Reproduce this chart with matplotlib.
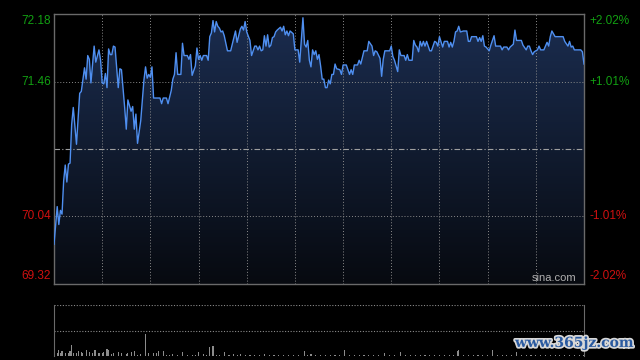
import numpy as np
import matplotlib.pyplot as plt
import matplotlib.patheffects as pe
from matplotlib.colors import LinearSegmentedColormap

# intraday minutes since open (330 trading minutes) and prices
minutes = [0, 2, 3, 4, 5, 6, 7, 8, 9, 10, 11, 12, 14, 16, 17, 19, 20, 21, 22, 23,
           25, 26, 28, 29, 30, 31, 32, 33, 34, 35, 36, 37, 38, 39, 40, 41, 42, 44, 45, 46,
           48, 49, 50, 51, 52, 54, 55, 56, 57, 58, 59, 60, 61, 62, 66, 67, 68, 70, 71, 73,
           74, 75, 76, 77, 79, 80, 81, 83, 84, 85, 86, 87, 88, 89, 90, 91, 92, 93, 95, 96,
           97, 98, 99, 100, 101, 102, 103, 104, 105, 106, 108, 110, 112, 113, 114, 116, 117, 118, 119, 120,
           122, 123, 125, 126, 127, 128, 129, 130, 131, 132, 133, 134, 135, 136, 137, 138, 139, 141, 142, 143,
           144, 145, 146, 147, 149, 150, 152, 153, 155, 156, 157, 158, 159, 160, 161, 162, 163, 164, 165, 166,
           167, 168, 169, 170, 171, 172, 173, 174, 175, 176, 178, 179, 180, 182, 183, 184, 185, 186, 187, 189,
           190, 191, 193, 195, 196, 198, 199, 200, 201, 203, 204, 205, 206, 209, 210, 211, 212, 214, 215, 216,
           218, 219, 220, 221, 223, 224, 225, 226, 227, 228, 229, 230, 231, 232, 234, 235, 237, 238, 239, 240,
           242, 243, 245, 246, 247, 248, 249, 250, 251, 252, 253, 255, 257, 258, 259, 260, 263, 264, 265, 266,
           267, 268, 269, 271, 272, 274, 275, 278, 279, 280, 282, 283, 284, 286, 287, 288, 291, 292, 294, 295,
           296, 297, 298, 299, 301, 302, 303, 305, 306, 307, 308, 309, 310, 312, 317, 318, 320, 321, 322, 323,
           324, 328, 329, 330]
prices = [69.74, 70.14, 69.95, 70.10, 70.06, 70.41, 70.58, 70.40, 70.59, 70.60, 71.01, 71.19, 70.80, 71.34, 71.36, 71.61, 71.49, 71.74, 71.70, 71.45,
          71.84, 71.67, 71.80, 71.69, 71.45, 71.44, 71.55, 71.40, 71.81, 71.75, 71.75, 71.84, 71.83, 71.62, 71.40, 71.60, 71.59, 71.19, 70.96, 71.27,
          71.15, 71.20, 70.96, 71.12, 70.81, 71.05, 71.26, 71.48, 71.62, 71.50, 71.54, 71.51, 71.62, 71.29, 71.29, 71.23, 71.29, 71.29, 71.23, 71.37,
          71.49, 71.54, 71.77, 71.54, 71.54, 71.87, 71.74, 71.74, 71.70, 71.75, 71.53, 71.58, 71.63, 71.82, 71.70, 71.74, 71.69, 71.74, 71.74, 71.69,
          71.94, 71.98, 72.11, 71.99, 72.10, 72.05, 72.03, 71.99, 72.00, 71.95, 71.79, 71.79, 71.93, 72.00, 71.88, 72.02, 72.05, 72.01, 72.10, 71.99,
          71.90, 71.74, 71.84, 71.84, 71.80, 71.84, 71.79, 71.80, 71.95, 71.84, 71.96, 71.83, 71.85, 71.93, 71.94, 71.99, 72.01, 72.04, 72.00, 72.05,
          71.96, 72.00, 71.95, 72.00, 71.97, 71.80, 71.80, 71.67, 72.14, 71.86, 71.83, 71.90, 71.69, 71.62, 71.80, 71.75, 71.79, 71.70, 71.75, 71.63,
          71.49, 71.49, 71.40, 71.40, 71.48, 71.44, 71.54, 71.54, 71.65, 71.60, 71.59, 71.54, 71.64, 71.64, 71.59, 71.54, 71.59, 71.54, 71.64, 71.64,
          71.69, 71.65, 71.79, 71.79, 71.89, 71.84, 71.74, 71.79, 71.78, 71.71, 71.52, 71.70, 71.79, 71.79, 71.84, 71.73, 71.69, 71.57, 71.80, 71.74,
          71.74, 71.69, 71.75, 71.69, 71.69, 71.90, 71.85, 71.83, 71.78, 71.89, 71.84, 71.89, 71.84, 71.89, 71.79, 71.79, 71.89, 71.88, 71.84, 71.94,
          71.83, 71.89, 71.89, 71.83, 71.88, 71.83, 71.89, 71.99, 72.00, 72.05, 71.99, 72.00, 72.00, 71.89, 71.89, 71.94, 71.94, 71.89, 71.93, 71.89,
          71.95, 71.84, 71.83, 71.79, 71.85, 71.95, 71.84, 71.84, 71.80, 71.83, 71.83, 71.80, 71.83, 71.86, 72.01, 71.90, 71.90, 71.85, 71.80, 71.84,
          71.84, 71.79, 71.75, 71.78, 71.80, 71.84, 71.80, 71.80, 71.84, 71.88, 71.84, 71.94, 72.00, 71.94, 71.94, 71.89, 71.84, 71.89, 71.83, 71.84,
          71.80, 71.80, 71.78, 71.65]

prev_close = 70.75
y_low, y_high = 69.32, 72.18
left_labels = ["72.18", "71.46", "70.04", "69.32"]
left_values = [72.18, 71.46, 70.04, 69.32]
right_labels = ["+2.02%", "+1.01%", "-1.01%", "-2.02%"]
label_colors = ["#12a012", "#12a012", "#d01010", "#d01010"]

# volume bars (minute, volume)
vol_min = [0, 2, 3, 4, 5, 7, 9, 10, 11, 12, 14, 15, 17, 18, 20, 22, 24, 25, 26, 28,
           30, 31, 33, 34, 36, 37, 40, 42, 45, 46, 48, 50, 52, 54, 57, 59, 62, 64, 65, 68,
           70, 72, 74, 77, 80, 83, 86, 88, 90, 93, 95, 97, 99, 101, 103, 106, 109, 112, 114, 116,
           119, 122, 125, 128, 131, 134, 137, 140, 143, 146, 149, 152, 156, 158, 160, 163, 166, 169, 172, 175,
           178, 181, 184, 187, 190, 193, 196, 199, 202, 206, 209, 212, 216, 219, 222, 225, 228, 231, 234, 237,
           240, 243, 246, 249, 251, 252, 255, 258, 261, 264, 267, 270, 273, 276, 279, 282, 285, 288, 291, 294,
           297, 300, 303, 306, 309, 312, 315, 318, 321, 324, 327, 330]
vol = [830, 330, 600, 330, 500, 330, 330, 500, 1100, 330, 330, 500, 400, 330, 600, 430, 330, 570, 600, 330,
       330, 430, 670, 600, 230, 300, 400, 300, 230, 330, 430, 500, 150, 230, 2230, 270, 330, 300, 500, 470,
       130, 120, 230, 140, 400, 130, 150, 120, 400, 230, 130, 900, 1000, 150, 130, 370, 120, 230, 130, 200,
       120, 140, 120, 130, 200, 120, 150, 120, 130, 120, 140, 120, 500, 130, 230, 120, 140, 120, 150, 120,
       130, 630, 120, 140, 130, 120, 150, 120, 130, 330, 120, 140, 400, 120, 130, 150, 120, 140, 120, 130,
       120, 150, 120, 130, 500, 600, 130, 120, 150, 120, 140, 130, 570, 120, 130, 150, 120, 400, 130, 120,
       140, 120, 130, 150, 120, 140, 120, 130, 150, 120, 140, 150]

fig = plt.figure(figsize=(6.4, 3.6), dpi=100, facecolor="black")
ax = fig.add_axes([54 / 640, 1 - 284 / 360, 530 / 640, 270 / 360], facecolor="black")
axv = fig.add_axes([54 / 640, 1 - 356 / 360, 530 / 640, 51 / 360], facecolor="black")

# gradient fill under the price line
cmap = LinearSegmentedColormap.from_list("fill", ["#070a10", "#1b2d50"])
grad = np.linspace(1, 0, 256).reshape(-1, 1)
im = ax.imshow(grad, extent=[0, 330, y_low, y_high], aspect="auto", cmap=cmap, zorder=1)
poly = ax.fill_between(minutes, prices, y_low, color="none")
im.set_clip_path(poly.get_paths()[0], transform=ax.transData)

ax.plot(minutes, prices, color="#4f8ff0", lw=1, zorder=3)

grid_col = "#8a8a8a"
for m in range(30, 330, 30):
    ax.axvline(m, color=grid_col, lw=0.7, ls=(0, (1, 2)), zorder=2)
for v in [71.46, 70.04]:
    ax.axhline(v, color=grid_col, lw=0.7, ls=(0, (1, 2)), zorder=2)
ax.axhline(prev_close, color="#a0a0a0", lw=0.8, ls=(0, (5, 2, 1, 2)), zorder=2)

ax.set_xlim(0, 330)
ax.set_ylim(y_low, y_high)
ax.set_xticks([])
ax.set_yticks([])
for s in ax.spines.values():
    s.set_color("#6a6a6a")
    s.set_linewidth(1)

vas = ["top", "center", "center", "bottom"]
for lab, val, rl, c, va in zip(left_labels, left_values, right_labels, label_colors, vas):
    yy = val
    if va == "top":
        yy = val - 0.01
    if va == "bottom":
        yy = val + 0.02
    ax.text(-0.006, yy, lab, transform=ax.get_yaxis_transform(), ha="right", va=va,
            color=c, fontsize=8.5, family="Liberation Sans")
    ax.text(1.011, yy, rl, transform=ax.get_yaxis_transform(), ha="left", va=va,
            color=c, fontsize=8.5, family="Liberation Sans")

ax.text(0.985, 0.005, "sina.com", transform=ax.transAxes, ha="right", va="bottom",
        color="#b0b0b0", fontsize=8, family="Liberation Sans")

# volume panel
axv.bar(vol_min, vol, width=0.7, color="#8c8c8c", align="center")
axv.set_xlim(0, 330)
axv.set_ylim(0, 5100)
axv.set_xticks([])
axv.set_yticks([])
axv.axhline(5100, color=grid_col, lw=0.8, ls=(0, (1, 1.5)))
axv.axhline(2550, color=grid_col, lw=0.8, ls=(0, (1, 1.5)))
for k in ["top", "bottom"]:
    axv.spines[k].set_visible(False)
for k in ["left", "right"]:
    axv.spines[k].set_color("#6a6a6a")

fig.text(0.99, 0.028, "www.365jz.com", ha="right", va="bottom", color="#2a5aa0",
         fontsize=10, fontweight="bold", family="DejaVu Serif",
         path_effects=[pe.withStroke(linewidth=2.5, foreground="#d8d8d8")])

fig.savefig("out.png", dpi=100, facecolor="black")
